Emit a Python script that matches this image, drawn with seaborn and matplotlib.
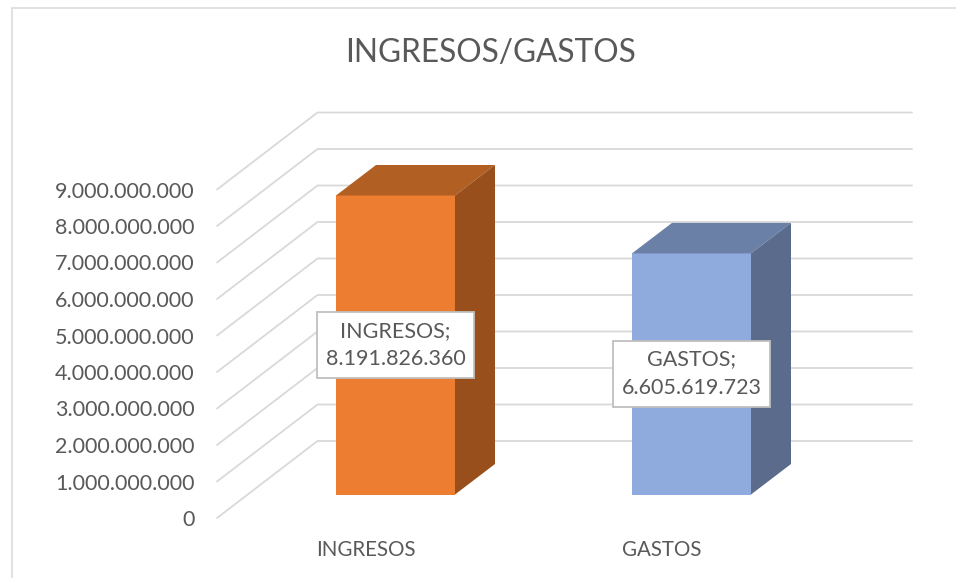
import matplotlib
matplotlib.use("Agg")
import matplotlib.pyplot as plt
from matplotlib.lines import Line2D
from matplotlib.patches import Polygon
from matplotlib.transforms import IdentityTransform, ScaledTranslation
import pandas as pd
import seaborn as sns

categories = ["INGRESOS", "GASTOS"]
values = [8191826360, 6605619723]
value_labels = ["INGRESOS;\n8.191.826.360", "GASTOS;\n6.605.619.723"]
tick_values = [0, 1e9, 2e9, 3e9, 4e9, 5e9, 6e9, 7e9, 8e9, 9e9]
tick_labels = ["0", "1.000.000.000", "2.000.000.000", "3.000.000.000", "4.000.000.000",
               "5.000.000.000", "6.000.000.000", "7.000.000.000", "8.000.000.000", "9.000.000.000"]
front_colors = ["#ED7D31", "#8FAADC"]
top_colors = ["#B25F23", "#6B80A6"]
side_colors = ["#984F1B", "#5B6B8C"]

W, H = 956, 578
GREY = "#595959"
GRID = "#D9D9D9"

sns.set_theme(style="white")
plt.rcParams["font.family"] = ["Lato", "DejaVu Sans"]

fig = plt.figure(figsize=(W / 100, H / 100), dpi=100, facecolor="white")
# front plane of the bars, in pixels from the top left
ax = fig.add_axes([247.5 / W, 1 - 494.5 / H, 592 / W, 328.5 / H])

df = pd.DataFrame({"cat": categories, "val": values})
sns.barplot(data=df, x="cat", y="val", hue="cat", palette=front_colors, width=0.402,
            dodge=False, legend=False, ax=ax, zorder=3, linewidth=0, saturation=1)
ax.set_xlim(-0.5, 1.5)
ax.set_ylim(0, 9e9)
ax.set_xlabel("")
ax.set_ylabel("")
sns.despine(ax=ax, left=True, bottom=True)
ax.patch.set_alpha(0)


def proj(x, y, dx=0, dy=0):
    # data point to display pixels, shifted along the depth axis
    px, py = ax.transData.transform((x, y))
    return px + dx, py + dy


# walls: front of floor is -30/-23.5 px from the bars, back is +70/+53.5
for v in tick_values:
    a = proj(-0.5, v, -30.5, -23.5)
    b = proj(-0.5, v, 70, 53.5)
    c = proj(1.5, v, 72.5, 53.5)
    ax.add_line(Line2D([a[0], b[0], c[0]], [a[1], b[1], c[1]], color=GRID, lw=1.3,
                       transform=IdentityTransform(), clip_on=False, zorder=1))

# top and side faces of each bar
depth = (40, 30.5)
for container, top_c, side_c in zip(ax.containers, top_colors, side_colors):
    bar = container[0]
    x0, x1 = bar.get_x(), bar.get_x() + bar.get_width()
    h = bar.get_height()
    top = [proj(x0, h), proj(x1, h), proj(x1, h, *depth), proj(x0, h, *depth)]
    side = [proj(x1, 0), proj(x1, h), proj(x1, h, *depth), proj(x1, 0, *depth)]
    ax.add_patch(Polygon(top, closed=True, facecolor=top_c, edgecolor="none",
                         transform=IdentityTransform(), clip_on=False, zorder=3))
    ax.add_patch(Polygon(side, closed=True, facecolor=side_c, edgecolor="none",
                         transform=IdentityTransform(), clip_on=False, zorder=3))

for container, text in zip(ax.containers, value_labels):
    ax.bar_label(container, labels=[text], label_type="center", fontsize=15.5, color=GREY,
                 linespacing=1.55, zorder=5, multialignment="center",
                 bbox=dict(facecolor="white", edgecolor="#BFBFBF", linewidth=1.3, pad=6))

ax.set_yticks(tick_values)
ax.set_yticklabels(tick_labels)
ax.tick_params(axis="y", length=0, pad=38, labelsize=15.5, labelcolor=GREY)
ax.tick_params(axis="x", length=0, pad=33, labelsize=14.8, labelcolor=GREY)
ax.set_xticks([0, 1])
ax.set_xticklabels(categories)
for lab in ax.get_yticklabels():
    lab.set_transform(lab.get_transform() + ScaledTranslation(0, -23.5 / 100, fig.dpi_scale_trans))
for lab in ax.get_xticklabels():
    lab.set_transform(lab.get_transform() + ScaledTranslation(-30 / 100, 0, fig.dpi_scale_trans))

fig.text(491 / W, 1 - 53.5 / H, "INGRESOS/GASTOS", ha="center", va="center", fontsize=22.8, color=GREY)

# chart frame, only top and left visible in the crop
fig.add_artist(Line2D([11.5 / W, 1], [1 - 7.5 / H, 1 - 7.5 / H], color=GRID, lw=1.1))
fig.add_artist(Line2D([11.5 / W, 11.5 / W], [1 - 7.5 / H, 0], color=GRID, lw=1.1))

fig.savefig("out.png", dpi=100, facecolor="white")
